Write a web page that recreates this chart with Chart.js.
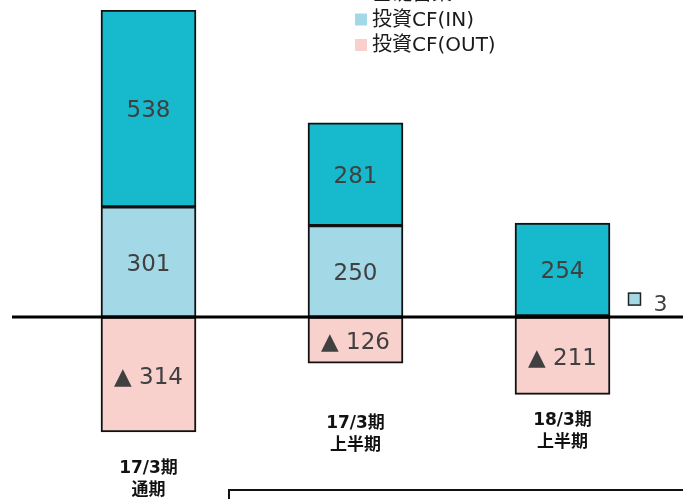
<!DOCTYPE html>
<html>
<head>
<meta charset="utf-8">
<script src="https://cdn.jsdelivr.net/npm/chart.js@4"></script>
<style>
  html,body{margin:0;padding:0;background:#fff;}
  #wrap{width:683px;height:499px;position:relative;overflow:hidden;}
</style>
</head>
<body>
<div id="wrap"><canvas id="cf" width="683" height="499"></canvas></div>
<script>
const periods = [["17/3期","通期"], ["17/3期","上半期"], ["18/3期","上半期"]];
const basicCF = [538, 281, 254];
const investIn = [301, 250, 3];
const investOut = [-314, -126, -211];

const TEAL = "#17b9cd", LIGHT = "#a3d9e7", PINK = "#f8d1cc";
const FONT = '"DejaVu Sans", "Noto Sans CJK JP", sans-serif';

// label rows under each bar (pixel y of first line)
const catLabelY = [469, 424, 421];

const overlay = {
  id: "overlay",
  afterDatasetsDraw(chart){
    const {ctx, scales:{x, y}} = chart;
    const y0 = y.getPixelForValue(0);

    // baseline
    ctx.save();
    ctx.strokeStyle = "#000"; ctx.lineWidth = 3;
    ctx.beginPath(); ctx.moveTo(12, y0); ctx.lineTo(683, y0); ctx.stroke();

    // values in segments
    ctx.textAlign = "center"; ctx.textBaseline = "middle";
    chart.data.datasets.forEach((ds, di)=>{
      const meta = chart.getDatasetMeta(di);
      meta.data.forEach((bar, i)=>{
        const v = ds.data[i];
        if(Math.abs(v) < 20){
          // too thin: marker + value beside the bar
          const mx = bar.x + 66, my = y0 - 18;
          ctx.fillStyle = ds.backgroundColor; ctx.strokeStyle = "#222"; ctx.lineWidth = 1.5;
          ctx.fillRect(mx, my - 6, 12, 12); ctx.strokeRect(mx, my - 6, 12, 12);
          ctx.fillStyle = "#404040"; ctx.font = "22px " + FONT; ctx.textAlign = "left";
          ctx.fillText(String(v), mx + 25, my + 6);
          ctx.textAlign = "center";
          return;
        }
        const cy = (bar.y + bar.base) / 2;
        ctx.fillStyle = "#404040"; ctx.font = "23px " + FONT;
        ctx.fillText(v < 0 ? "▲ " + Math.abs(v) : String(v), bar.x, cy + 3);
      });
    });

    // category labels
    ctx.fillStyle = "#111"; ctx.font = "bold 17px " + FONT;
    periods.forEach((p, i)=>{
      const cx = x.getPixelForValue(i);
      ctx.fillText(p[0], cx, catLabelY[i]);
      ctx.fillText(p[1], cx, catLabelY[i] + 22);
    });

    // legend (top right, partly cut off)
    const items = [["基礎営業CF", TEAL], ["投資CF(IN)", LIGHT], ["投資CF(OUT)", PINK]];
    ctx.textAlign = "left"; ctx.font = "20px " + FONT;
    items.forEach((it, k)=>{
      const ly = -6 + k * 25.5;
      ctx.fillStyle = it[1]; ctx.fillRect(355, ly - 6, 12, 12);
      ctx.fillStyle = "#1a1a1a"; ctx.fillText(it[0], 372, ly + 1);
    });

    // note box at the bottom
    ctx.strokeStyle = "#111"; ctx.lineWidth = 2;
    ctx.strokeRect(229, 490, 470, 30);
    ctx.restore();
  }
};

new Chart(document.getElementById("cf"), {
  type: "bar",
  data: {
    labels: periods.map(p=>p.join(" ")),
    datasets: [
      { label:"投資CF(IN)", data: investIn, backgroundColor: LIGHT },
      { label:"基礎営業CF", data: basicCF, backgroundColor: TEAL },
      { label:"投資CF(OUT)", data: investOut, backgroundColor: PINK }
    ].map(d=>Object.assign(d, { borderColor:"#111", borderWidth:2, borderSkipped:false, barThickness:95 }))
  },
  options: {
    responsive: false,
    devicePixelRatio: 1,
    animation: false,
    layout: { padding: { left:45, right:17, top:10, bottom:0 } },
    plugins: { legend:{ display:false }, tooltip:{ enabled:false } },
    scales: {
      x: { stacked:true, display:false, offset:true },
      y: { stacked:true, display:false, min:-497, max:839 }
    }
  },
  plugins: [overlay]
});
</script>
</body>
</html>
